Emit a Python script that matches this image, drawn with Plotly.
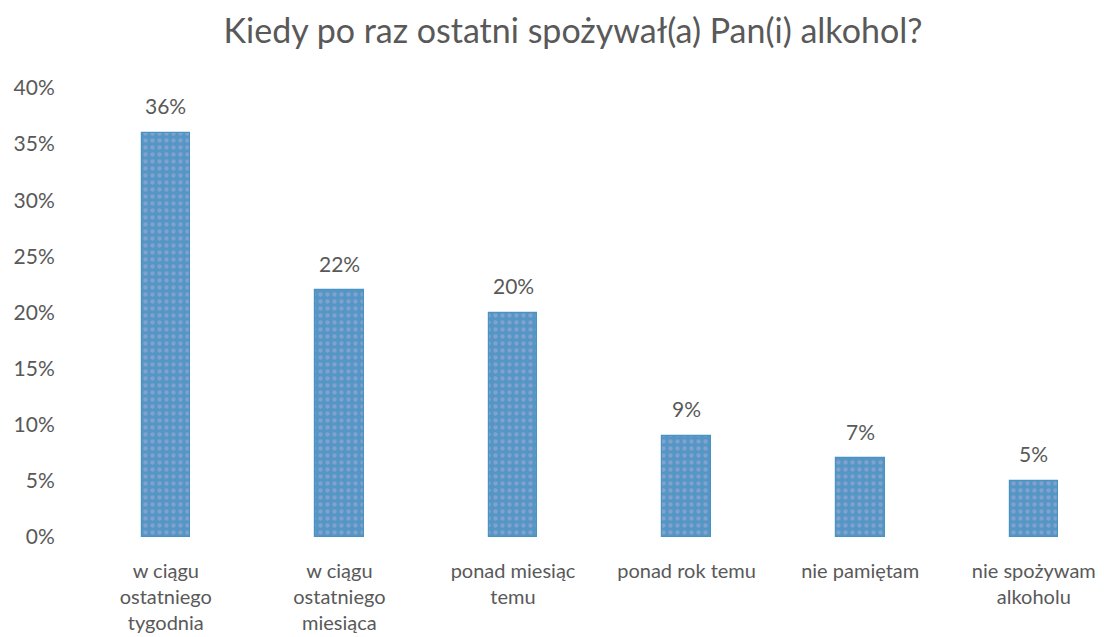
import plotly.graph_objects as go

categories = ["w ciągu<br>ostatniego<br>tygodnia", "w ciągu<br>ostatniego<br>miesiąca",
              "ponad miesiąc<br>temu", "ponad rok temu", "nie pamiętam", "nie spożywam<br>alkoholu"]
values = [0.36, 0.22, 0.20, 0.09, 0.07, 0.05]
labels = ["36%", "22%", "20%", "9%", "7%", "5%"]
tick_vals = [0, 0.05, 0.10, 0.15, 0.20, 0.25, 0.30, 0.35, 0.40]
tick_text = ["0%", "5%", "10%", "15%", "20%", "25%", "30%", "35%", "40%"]

FONT = "Lato"
TXT = "#595959"
fig = go.Figure()
fig.add_trace(go.Bar(
    x=list(range(len(categories))), y=values, width=0.28,
    marker=dict(color="#6a9fca", line=dict(color="#4a92c0", width=1.2),
                pattern=dict(shape=".", fgcolor="#b3aad4", bgcolor="#5497c6", size=7, solidity=0.3)),
    hoverinfo="skip",
))
for i, (v, t) in enumerate(zip(values, labels)):
    fig.add_annotation(x=i, y=v, text=t, showarrow=False, yshift=27,
                       font=dict(family=FONT, size=21, color=TXT))

# page body has an 8px margin, so the figure is 8px smaller and offset
fig.update_layout(
    width=1096, height=629,
    margin=dict(l=71, r=0, t=80, b=100),
    paper_bgcolor="white", plot_bgcolor="white",
    title=dict(text="Kiedy po raz ostatni spożywał(a) Pan(i) alkohol?", x=(573 - 8) / 1096, xanchor="center",
               y=1 - 23 / 629, yanchor="middle", font=dict(family=FONT, size=34, color=TXT)),
    showlegend=False,
    bargap=0,
)
fig.update_xaxes(range=[-0.5, -0.5 + 1025 / 173.6], tickvals=list(range(len(categories))),
                 ticktext=categories, showgrid=False, zeroline=False, showline=False, automargin=False,
                 tickfont=dict(family=FONT, size=20, color=TXT), ticks="outside",
                 ticklen=16, tickcolor="rgba(0,0,0,0)")
fig.update_yaxes(range=[0, 0.40], tickvals=tick_vals, ticktext=tick_text, showgrid=False, automargin=False,
                 zeroline=False, showline=False, ticks="outside", ticklen=19, tickcolor="rgba(0,0,0,0)",
                 tickfont=dict(family=FONT, size=21, color=TXT))
fig.write_html("out.html")
